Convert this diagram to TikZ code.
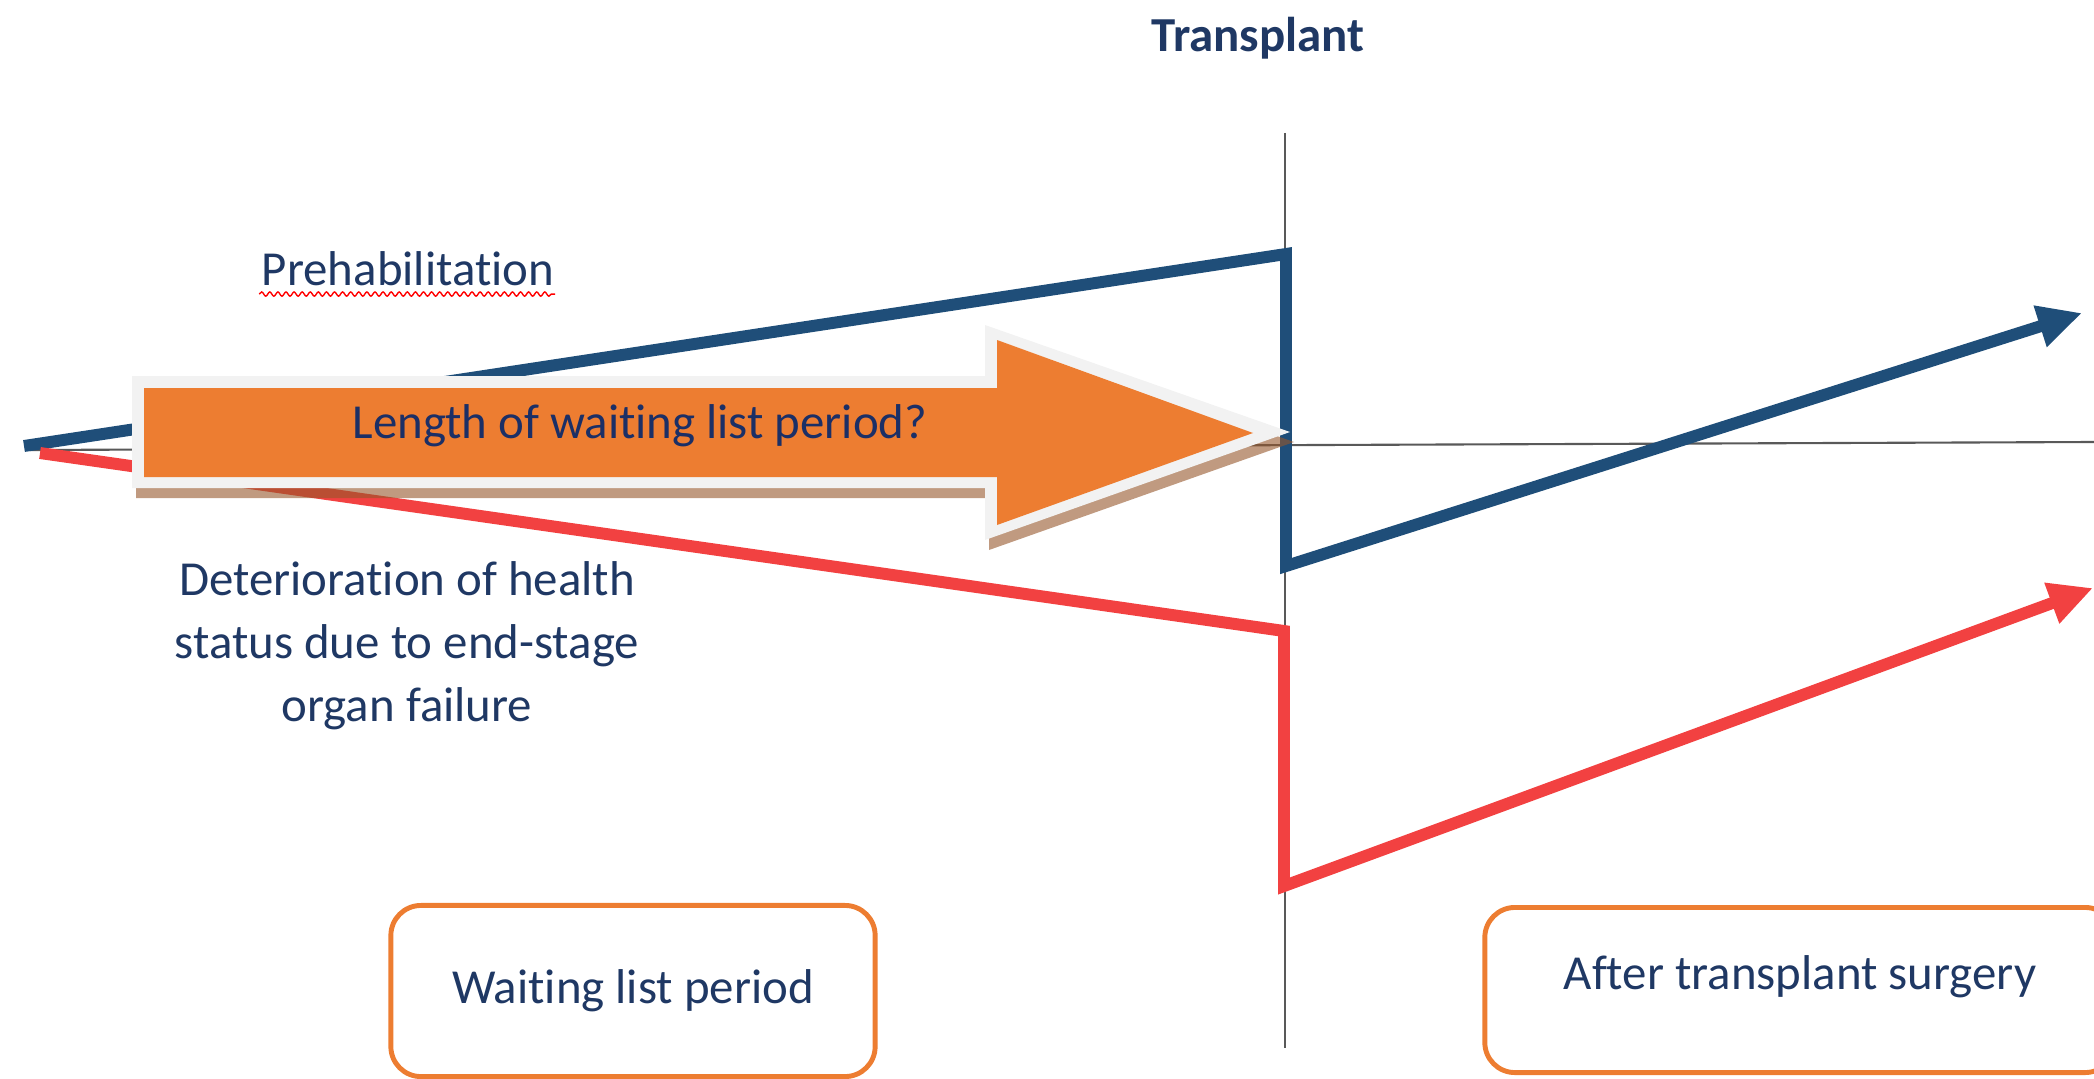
\documentclass[tikz,border=0pt]{standalone}
\usepackage{fontspec}
\setmainfont{Carlito}[Ligatures=NoCommon]
\usetikzlibrary{arrows.meta,decorations.pathmorphing}
\definecolor{lineblue}{HTML}{1F4E79}
\definecolor{linered}{HTML}{F24141}
\definecolor{boxorange}{HTML}{ED7D31}
\definecolor{txtblue}{HTML}{1F3864}
\definecolor{arrowtxt}{HTML}{1B2F66}
\definecolor{rimgray}{HTML}{F2F2F2}
\definecolor{shadebrown}{RGB}{150,87,43}

\begin{document}
\begin{tikzpicture}[x=0.01cm, y=-0.01cm,
    txt/.style={text=txtblue, font=\fontsize{13.9}{17.9}\selectfont, inner sep=0pt},
    course/.style={line width=3.4pt, -{Triangle[length=12.5pt,width=11.5pt]}},
    periodbox/.style={txt, draw=boxorange, line width=1.4pt, rounded corners=0.3cm}]
    \useasboundingbox (0,0) rectangle (2094,1079);
    \clip (0,0) rectangle (2094,1079);

    % time axes
    \draw [black!65, line width=0.6pt] (1285,133) -- (1285,1048);
    \draw [black!65, line width=0.6pt] (30,450) -- (2094,442);

    % health courses
    \draw [course, draw=lineblue] (24,446) -- (1286,254) -- (1286,566) -- (2082,313);
    \draw [course, draw=linered] (40,453) -- (1284,631) -- (1284,886) -- (2093,588);

    % waiting list arrow
    \fill [shadebrown, opacity=0.6, shift={(4,10)}] (132,376) -- (985,376) -- (985,325)
        -- (1290,432) -- (985,540) -- (985,488) -- (132,488) -- cycle;
    \fill [rimgray] (132,376) -- (985,376) -- (985,325) -- (1290,432) -- (985,540)
        -- (985,488) -- (132,488) -- cycle;
    \fill [boxorange] (144,388) -- (997,388) -- (997,340) -- (1253,433) -- (997,525)
        -- (997,477) -- (144,477) -- cycle;
    \node [txt, text=arrowtxt, anchor=base] (length) at (640,438) {Length of waiting list period?};

    % labels
    \node [txt, font=\fontsize{13.9}{17.9}\selectfont\bfseries, anchor=base] (transplant) at (1258,52) {Transplant};
    \node [txt, anchor=base] (prehab) at (408,285) {Prehabilitation};
    \draw [red, line width=0.4pt, decorate, decoration={snake, amplitude=0.6pt, segment length=2.3pt}]
        (prehab.south west) ++(-2,8) -- ++(296,0);
    \node [txt, align=center] (decline) at (407,646) {Deterioration of health\\
        status due to end-stage\\ organ failure};

    \node [periodbox, minimum width=4.84cm, minimum height=1.71cm] (waiting) at (633,991)
        {Waiting list period};
    \node [periodbox, minimum width=6.3cm, minimum height=1.65cm, text depth=0.34cm] (after)
        at (1800,990) {After transplant surgery};
\end{tikzpicture}
\end{document}
